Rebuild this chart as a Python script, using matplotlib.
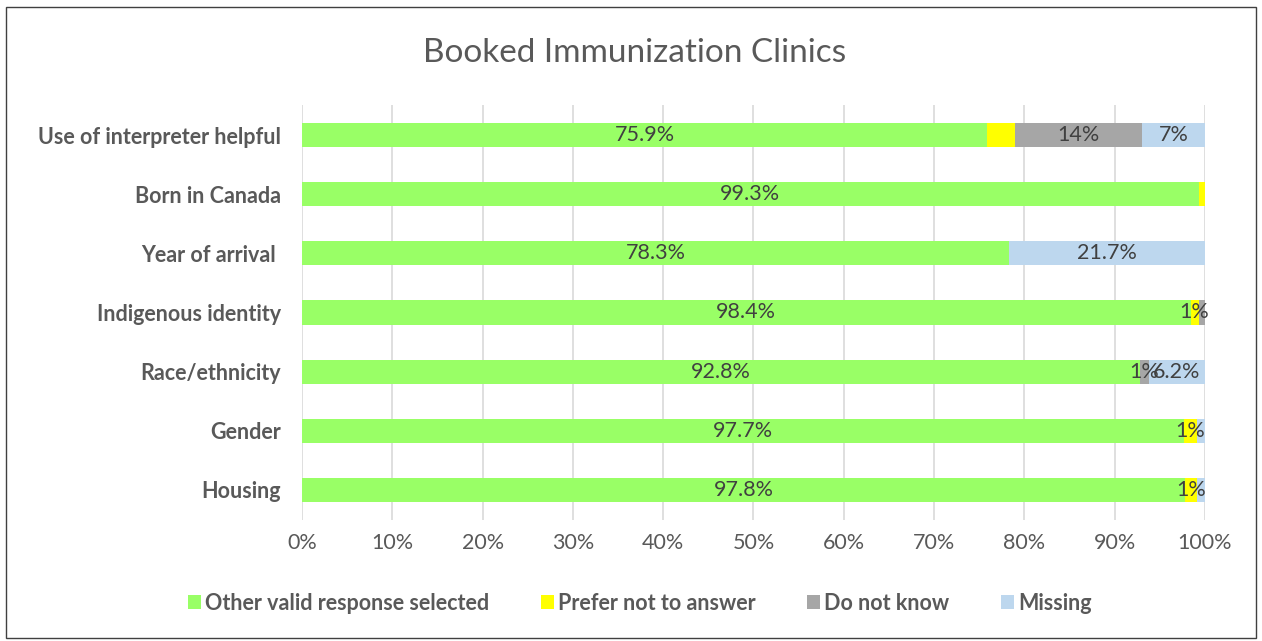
import matplotlib.pyplot as plt
from matplotlib.patches import Rectangle
from matplotlib.ticker import PercentFormatter

plt.rcParams["font.family"] = ["Lato", "DejaVu Sans"]

title = "Booked Immunization Clinics"

categories = [
    "Use of interpreter helpful",
    "Born in Canada",
    "Year of arrival ",
    "Indigenous identity",
    "Race/ethnicity",
    "Gender",
    "Housing",
]

series_names = ["Other valid response selected", "Prefer not to answer", "Do not know", "Missing"]
other_valid = [75.9, 99.3, 78.3, 98.4, 92.8, 97.7, 97.8]
prefer_not = [3.1, 0.7, 0.0, 0.9, 0.0, 1.4, 1.3]
do_not_know = [14.0, 0.0, 0.0, 0.7, 1.0, 0.0, 0.0]
missing = [7.0, 0.0, 21.7, 0.0, 6.2, 0.9, 0.9]

other_labels = ["75.9%", "99.3%", "78.3%", "98.4%", "92.8%", "97.7%", "97.8%"]
prefer_labels = ["", "", "", "1%", "", "1%", "1%"]
dnk_labels = ["14%", "", "", "", "1%", "", ""]
missing_labels = ["7%", "", "21.7%", "", "6.2%", "", ""]

colors = ["#99ff66", "#ffff00", "#a6a6a6", "#bdd7ee"]
text_grey = "#595959"
label_grey = "#404040"

fig = plt.figure(figsize=(12.62, 6.41), dpi=100)
ax = fig.add_axes([0.2393, 0.1895, 0.7155, 0.646])

ypos = list(range(len(categories)))
left = [0.0] * len(categories)
all_vals = [other_valid, prefer_not, do_not_know, missing]
all_labels = [other_labels, prefer_labels, dnk_labels, missing_labels]
for name, vals, col, labs in zip(series_names, all_vals, colors, all_labels):
    bars = ax.barh(ypos, vals, left=left, height=0.41, color=col, label=name, zorder=3)
    ax.bar_label(bars, labels=labs, label_type="center", fontsize=15.5, color=label_grey, zorder=4)
    left = [l + v for l, v in zip(left, vals)]

ax.set_xlim(0, 100)
ax.set_ylim(len(categories) - 0.5, -0.5)
ax.set_yticks(ypos)
ax.set_yticklabels(categories, fontsize=15.5, fontweight="bold", color=text_grey)
ax.set_xticks(range(0, 101, 10))
ax.xaxis.set_major_formatter(PercentFormatter(decimals=0))
ax.tick_params(axis="x", labelsize=15.5, labelcolor=text_grey, length=0, pad=10)
ax.tick_params(axis="y", length=0, pad=15)
ax.grid(axis="x", color="#d9d9d9", linewidth=1.2, zorder=0)
for s in ax.spines.values():
    s.set_visible(False)

fig.text(0.503, 0.918, title, fontsize=24, color=text_grey, ha="center", va="center")

fig.legend(
    loc="center",
    bbox_to_anchor=(0.507, 0.059),
    ncol=4,
    frameon=False,
    prop={"size": 15.5, "weight": "bold"},
    labelcolor=text_grey,
    handlelength=0.6,
    handleheight=0.6,
    handletextpad=0.2,
    columnspacing=2.4,
)

fig.patches.append(Rectangle((0.005, 0.004), 0.99, 0.985, transform=fig.transFigure,
                             fill=False, edgecolor="#404040", linewidth=1.0))

fig.savefig("out.png", dpi=100)
